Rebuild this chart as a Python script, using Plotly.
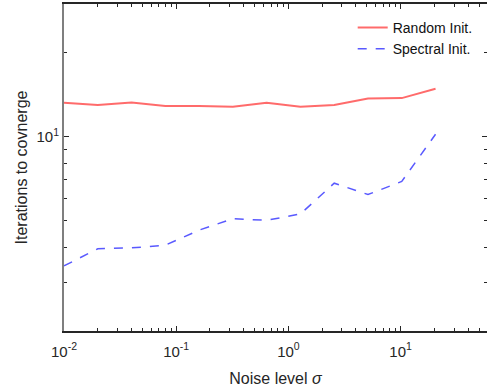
import plotly.graph_objects as go

noise = [0.01, 0.02, 0.04, 0.08, 0.16, 0.32, 0.64, 1.28, 2.56, 5.12, 10.24, 20.48]
random_init = [13.24, 13.0, 13.27, 12.88, 12.88, 12.81, 13.24, 12.81, 13.0, 13.72, 13.76, 14.86]
spectral_init = [3.43, 3.95, 3.98, 4.07, 4.61, 5.07, 5.0, 5.27, 6.80, 6.19, 6.90, 10.2]

x_tickvals = [0.01, 0.1, 1, 10]
x_ticktext = ["10<sup>-2</sup>", "10<sup>-1</sup>", "10<sup>0</sup>", "10<sup>1</sup>"]
y_tickvals = [10]
y_ticktext = ["10<sup>1</sup>"]

font_family = "Liberation Sans, Arial, sans-serif"
axis_color = "#262626"

fig = go.Figure()
fig.add_trace(go.Scatter(x=noise, y=random_init, mode="lines", name="Random Init.",
                         line=dict(color="rgba(255,70,70,0.8)", width=2)))
fig.add_trace(go.Scatter(x=noise, y=spectral_init, mode="lines", name="Spectral Init.",
                         line=dict(color="rgba(60,60,255,0.85)", width=1.5, dash="dash")))

fig.update_layout(
    width=487, height=389,
    margin=dict(l=64, r=0, t=4, b=58),
    paper_bgcolor="white", plot_bgcolor="white",
    font=dict(family=font_family, color=axis_color, size=15),
    legend=dict(x=0.978, y=0.976, xanchor="right", yanchor="top",
                bgcolor="rgba(0,0,0,0)", font=dict(size=14, color="#111111"),
                itemwidth=30, tracegroupgap=2),
    xaxis=dict(type="log", range=[-2, 1.77], tickvals=x_tickvals, ticktext=x_ticktext,
               ticks="inside", ticklen=5, tickcolor=axis_color, showline=True, linecolor=axis_color,
               linewidth=1.5, mirror="ticks", showgrid=False, zeroline=False, automargin=False,
               ticklabelstandoff=6,
               minor=dict(ticks="inside", ticklen=3, dtick="D1", tickcolor=axis_color, showgrid=False),
               title=dict(text="Noise level <i>σ</i>", font=dict(size=16), standoff=14),
               tickfont=dict(size=15)),
    yaxis=dict(type="log", range=[0.301, 1.477], tickvals=y_tickvals, ticktext=y_ticktext,
               ticks="inside", ticklen=5, tickcolor=axis_color, showline=True, linecolor="#7f7f7f",
               linewidth=2, mirror="ticks", showgrid=False, zeroline=False, automargin=False,
               minor=dict(ticks="inside", ticklen=3, dtick="D1", tickcolor=axis_color, showgrid=False),
               title=dict(text="Iterations to covnerge", font=dict(size=16), standoff=5),
               tickfont=dict(size=15)),
)

fig.write_html("out.html", config={"displayModeBar": False},
               post_script="document.body.style.margin='0';document.body.style.overflow='hidden';")
